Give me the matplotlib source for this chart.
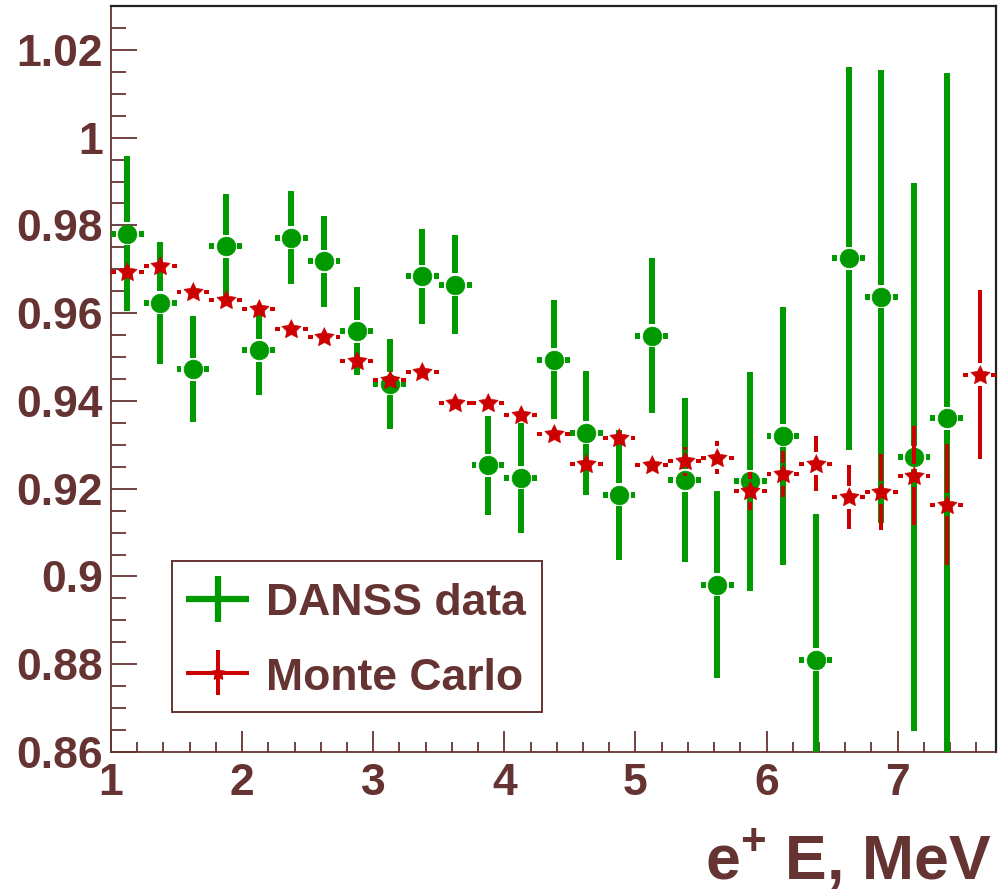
import numpy as np
import matplotlib
matplotlib.use('Agg')
import matplotlib.pyplot as plt
from matplotlib.lines import Line2D
from matplotlib.patches import Rectangle
from matplotlib.ticker import MultipleLocator, FuncFormatter

# ---------------- data ----------------
energy_data = [1.125, 1.375, 1.625, 1.875, 2.125, 2.375, 2.625, 2.875, 3.125,
               3.375, 3.625, 3.875, 4.125, 4.375, 4.625, 4.875, 5.125, 5.375,
               5.625, 5.875, 6.125, 6.375, 6.625, 6.875, 7.125, 7.375]
ratio_data = [0.9781, 0.9624, 0.9472, 0.9753, 0.9515, 0.9772, 0.9718, 0.9559,
              0.9439, 0.9684, 0.9665, 0.9253, 0.9225, 0.9494, 0.9327, 0.9186,
              0.9549, 0.9219, 0.8981, 0.9217, 0.9321, 0.8810, 0.9725, 0.9638,
              0.9272, 0.9361]
err_data = [0.0177, 0.0139, 0.0121, 0.0119, 0.0102, 0.0106, 0.0104, 0.0100,
            0.0102, 0.0108, 0.0113, 0.0113, 0.0125, 0.0135, 0.0141, 0.0148,
            0.0176, 0.0187, 0.0213, 0.0249, 0.0294, 0.0333, 0.0437, 0.0516,
            0.0625, 0.0787]

energy_mc = [1.125, 1.375, 1.625, 1.875, 2.125, 2.375, 2.625, 2.875, 3.125,
             3.375, 3.625, 3.875, 4.125, 4.375, 4.625, 4.875, 5.125, 5.375,
             5.625, 5.875, 6.125, 6.375, 6.625, 6.875, 7.125, 7.375, 7.625]
ratio_mc = [0.9693, 0.9707, 0.9648, 0.9631, 0.9610, 0.9564, 0.9545, 0.9492,
            0.9447, 0.9466, 0.9396, 0.9396, 0.9369, 0.9325, 0.9257, 0.9315,
            0.9253, 0.9262, 0.9271, 0.9195, 0.9233, 0.9257, 0.9181, 0.9192,
            0.9230, 0.9164, 0.9460]
err_mc = [0.0015, 0.0015, 0.0015, 0.0016, 0.0016, 0.0017, 0.0017, 0.0018,
          0.0018, 0.0019, 0.0019, 0.0020, 0.0021, 0.0022, 0.0023, 0.0024,
          0.0027, 0.0032, 0.0038, 0.0044, 0.0052, 0.0063, 0.0072, 0.0087,
          0.0112, 0.0137, 0.0192]

bin_half_width = 0.125
legend_labels = ["DANSS data", "Monte Carlo"]
x_label = r"e$^{+}$ E, MeV"

# ---------------- style ----------------
BROWN = '#663333'
GREEN = '#009900'
RED = '#cc0000'

plt.rcParams['font.family'] = ['Liberation Sans', 'DejaVu Sans']
plt.rcParams['font.weight'] = 'bold'
plt.rcParams['mathtext.fontset'] = 'custom'
plt.rcParams['mathtext.rm'] = 'Liberation Sans:bold'
plt.rcParams['mathtext.bf'] = 'Liberation Sans:bold'
plt.rcParams['mathtext.default'] = 'rm'

W, H = 1005, 894
fig = plt.figure(figsize=(W / 100, H / 100), dpi=100)
ax_l, ax_r, ax_t, ax_b = 111, 996, 6, 752
ax = fig.add_axes([ax_l / W, 1 - ax_b / H, (ax_r - ax_l) / W, (ax_b - ax_t) / H])
xlim = (1.0, 7.75)
ylim = (0.86, 1.03)
ax.set_xlim(*xlim)
ax.set_ylim(*ylim)

# data units per pixel, for ROOT-like gaps around markers
ux = (xlim[1] - xlim[0]) / (ax_r - ax_l)
uy = (ylim[1] - ylim[0]) / (ax_b - ax_t)
gap_px = 11.5

# fat five-point star marker
ang = np.pi / 2 + np.arange(10) * np.pi / 5
rad = np.where(np.arange(10) % 2 == 0, 1.0, 0.5)
star_verts = list(zip(rad * np.cos(ang), rad * np.sin(ang)))


def draw_series(x, y, ey, color, lw, marker, ms, z):
    x = np.asarray(x); y = np.asarray(y); ey = np.asarray(ey)
    gx = gap_px * ux
    gy = gap_px * uy
    ax.hlines(y, x - bin_half_width, x - gx, colors=color, linewidth=lw, zorder=z)
    ax.hlines(y, x + gx, x + bin_half_width, colors=color, linewidth=lw, zorder=z)
    m = ey > gy
    ax.vlines(x[m], (y - ey)[m], (y - gy)[m], colors=color, linewidth=lw, zorder=z)
    ax.vlines(x[m], (y + gy)[m], (y + ey)[m], colors=color, linewidth=lw, zorder=z)
    ax.plot(x, y, ls='none', marker=marker, ms=ms, color=color, mec=color,
            mew=0.5, zorder=z + 0.5)


draw_series(energy_data, ratio_data, err_data, GREEN, 4.3, 'o', 13.5, 3)
draw_series(energy_mc, ratio_mc, err_mc, RED, 2.9, star_verts, 14.5, 4)

# ---------------- axes styling ----------------
for s in ('left', 'bottom'):
    ax.spines[s].set_color(BROWN)
    ax.spines[s].set_linewidth(1.3)
for s in ('top', 'right'):
    ax.spines[s].set_color('#222222')
    ax.spines[s].set_linewidth(1.6)

ax.xaxis.set_major_locator(MultipleLocator(1))
ax.xaxis.set_minor_locator(MultipleLocator(0.2))
ax.yaxis.set_major_locator(MultipleLocator(0.02))
ax.yaxis.set_minor_locator(MultipleLocator(0.005))
ax.xaxis.set_major_formatter(FuncFormatter(lambda v, p: '{:g}'.format(round(v, 4))))
ax.yaxis.set_major_formatter(FuncFormatter(lambda v, p: '{:g}'.format(round(v, 4))))

ax.tick_params(axis='y', which='major', direction='in', length=19, width=1.3,
               color=BROWN, labelsize=32, labelcolor=BROWN, pad=6,
               right=False, left=True)
ax.tick_params(axis='y', which='minor', direction='in', length=11, width=1.3,
               color=BROWN, right=False, left=True)
ax.tick_params(axis='x', which='major', direction='in', length=15, width=1.3,
               color=BROWN, labelsize=32, labelcolor=BROWN, pad=8,
               top=False, bottom=True)
ax.tick_params(axis='x', which='minor', direction='in', length=7.5, width=1.3,
               color=BROWN, top=False, bottom=True)
for lab in ax.get_xticklabels() + ax.get_yticklabels():
    lab.set_fontweight('bold')

# x label
fig.text(991.7 / W, 1 - 880 / H, x_label, ha='right', va='baseline',
         fontsize=45, color=BROWN, fontweight='bold')

# ---------------- legend (ROOT-style box) ----------------
T = ax.transAxes
lx0, lx1 = 0.0693, 0.4873
ly0, ly1 = 0.0532, 0.2564
ax.add_patch(Rectangle((lx0, ly0), lx1 - lx0, ly1 - ly0, transform=T,
                       facecolor='white', edgecolor=BROWN, linewidth=1.4,
                       zorder=6))
cx, hw = 0.1206, 0.0358
gy_leg, rvh = 0.2051, 0.0302
ax.add_line(Line2D([cx - hw, cx + hw], [gy_leg, gy_leg], transform=T,
                   color=GREEN, lw=4.5, solid_capstyle='butt', zorder=7))
ax.add_line(Line2D([cx, cx], [gy_leg - rvh, gy_leg + rvh], transform=T,
                   color=GREEN, lw=4.5, solid_capstyle='butt', zorder=7))
ry_leg = 0.1063
ax.add_line(Line2D([cx - hw, cx + hw], [ry_leg, ry_leg], transform=T,
                   color=RED, lw=2.9, solid_capstyle='butt', zorder=7))
ax.add_line(Line2D([cx, cx], [ry_leg - rvh, ry_leg + rvh], transform=T,
                   color=RED, lw=2.9, solid_capstyle='butt', zorder=7))
ax.add_line(Line2D([cx], [ry_leg], transform=T, ls='none', marker=star_verts,
                   ms=10, color=RED, mec=RED, zorder=8))
ax.text(0.1748, 0.1836, legend_labels[0], transform=T, ha='left',
        va='baseline', fontsize=32, color=BROWN, fontweight='bold', zorder=8)
ax.text(0.1748, 0.0831, legend_labels[1], transform=T, ha='left',
        va='baseline', fontsize=32, color=BROWN, fontweight='bold', zorder=8)

fig.savefig('out.png', dpi=100)
